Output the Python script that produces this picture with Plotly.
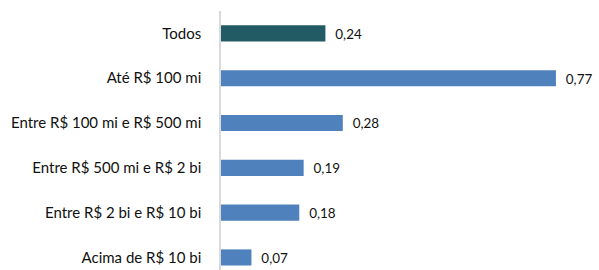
import plotly.graph_objects as go

categories = ["Todos", "Até R$ 100 mi", "Entre R$ 100 mi e R$ 500 mi",
              "Entre R$ 500 mi e R$ 2 bi", "Entre R$ 2 bi e R$ 10 bi", "Acima de R$ 10 bi"]
values = [0.24, 0.77, 0.28, 0.19, 0.18, 0.07]
labels = ["0,24", "0,77", "0,28", "0,19", "0,18", "0,07"]
colors = ["#225B63", "#4F81BD", "#4F81BD", "#4F81BD", "#4F81BD", "#4F81BD"]

cats = categories[::-1]
vals = values[::-1]
labs = labels[::-1]
cols = colors[::-1]

fig = go.Figure(go.Bar(
    y=cats, x=vals, orientation="h",
    marker=dict(color=cols, line=dict(width=0)),
    text=["\u00a0\u00a0" + t for t in labs], textposition="outside",
    textfont=dict(family="Lato", size=15, color="#111111"),
    cliponaxis=False, width=0.36, hoverinfo="skip",
))

fig.update_layout(
    width=599, height=270,
    margin=dict(l=221, r=0, t=11, b=0),
    paper_bgcolor="white", plot_bgcolor="white",
    showlegend=False,
    font=dict(family="Lato", size=15, color="#111111"),
    xaxis=dict(range=[0, 0.869], showgrid=False, zeroline=False, showticklabels=False,
               showline=False),
    yaxis=dict(range=[-0.28, 5.5], showgrid=False, zeroline=False, showline=True,
               linecolor="#D9D9D9", linewidth=1.5, ticks="", ticklabelstandoff=15,
               categoryorder="array", categoryarray=cats),
)

fig.write_html("out.html", config={"displayModeBar": False},
               post_script="document.body.style.margin='0';document.body.style.overflow='hidden';")
